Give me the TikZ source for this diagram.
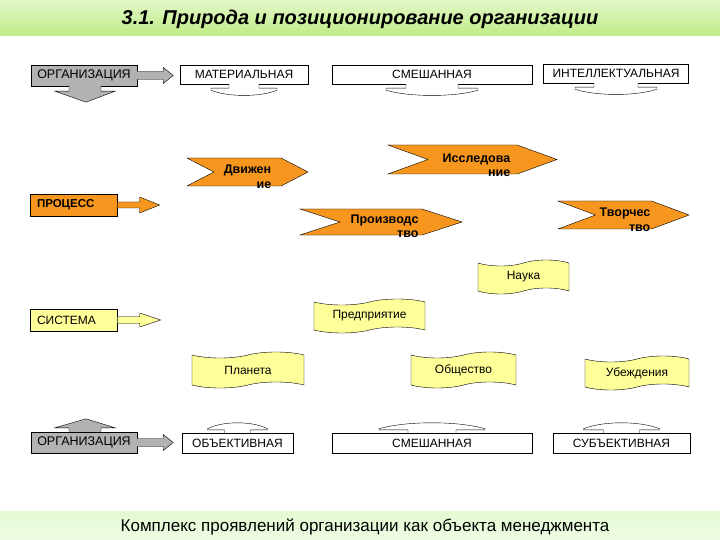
\documentclass[tikz,border=0pt]{standalone}
\usepackage{fontspec}
\setmainfont{Liberation Sans}
\usetikzlibrary{shapes.symbols}

\definecolor{bandtop}{RGB}{226,248,198}
\definecolor{bandbottom}{RGB}{190,236,134}
\definecolor{footband}{RGB}{228,250,210}
\definecolor{chevorange}{RGB}{247,150,30}
\definecolor{wavyellow}{RGB}{255,255,153}
\definecolor{orggray}{RGB}{178,178,178}

\begin{document}
\begin{tikzpicture}[x=1pt,y=-1pt,
    kind/.style={draw,thin,fill=white,inner sep=0,minimum height=19pt,font=\fontsize{12}{14}\selectfont},
    orgbox/.style={draw,thin,fill=orggray,inner sep=0,minimum width=106pt,minimum height=21pt,font=\fontsize{12.5}{14}\selectfont},
    tag/.style={draw,thin,inner sep=0,minimum width=87pt,minimum height=22pt,text width=74pt,align=left},
    chev/.style={signal,signal to=east,signal from=west,draw,thin,fill=chevorange,inner sep=0},
    chevtext/.style={align=right,inner sep=0,font=\bfseries\fontsize{12.5}{14.5}\selectfont},
    wave/.style={tape,draw,thin,fill=wavyellow,inner sep=0,tape bend height=6pt,font=\fontsize{12}{14}\selectfont},
    blockarrow/.style={draw,thin,line join=miter},
    tabarrow/.style={draw,thin,fill=white}
]
\useasboundingbox[fill=white] (0,0) rectangle (720,540);

\shade[top color=bandtop,bottom color=bandbottom] (0,0) rectangle (720,36);
\shade[top color=footband,bottom color=footband!60!white] (0,511) rectangle (720,540);
\node[font=\bfseries\itshape\fontsize{20}{24}\selectfont] (title) at (360,19)
    {3.1. Природа и позиционирование организации};
\node[font=\fontsize{17}{20}\selectfont] (foot) at (365,527)
    {Комплекс проявлений организации как объекта менеджмента};

\node[orgbox] (org1) at (84,75.5) {ОРГАНИЗАЦИЯ};
\node[kind,minimum width=128pt] (mat) at (244,74.5) {МАТЕРИАЛЬНАЯ};
\node[kind,minimum width=200pt] (mix1) at (432,74.5) {СМЕШАННАЯ};
\node[kind,minimum width=145pt] (int) at (616,73.5) {ИНТЕЛЛЕКТУАЛЬНАЯ};

\node[orgbox] (org2) at (84,442.5) {ОРГАНИЗАЦИЯ};
\node[kind,minimum width=111pt,minimum height=20pt] (obj) at (237.5,443) {ОБЪЕКТИВНАЯ};
\node[kind,minimum width=200pt,minimum height=20pt] (mix2) at (432,443) {СМЕШАННАЯ};
\node[kind,minimum width=137pt,minimum height=20pt] (sub) at (621.5,443) {СУБЪЕКТИВНАЯ};

\foreach \o in {org1,org2}{
  \draw[blockarrow,fill=orggray] (\o.east) ++(0,-4) -- ++(26,0) -- ++(0,-4)
      -- ++(10,8) -- ++(-10,8) -- ++(0,-4) -- ++(-26,0);
}
\draw[blockarrow,fill=orggray,shift={(org1.south)}] (-15,0) -- (-15,5) -- (-29,5)
    -- (2,16) -- (31,5) -- (17,5) -- (17,0);
\draw[blockarrow,fill=orggray,shift={(org2.north)}] (-15,0) -- (-15,-4) -- (-29,-4)
    -- (2,-13) -- (31,-4) -- (17,-4) -- (17,0);

\foreach \b/\w/\s in {mat/33/15,mix1/46/26,int/41/22}{
  \draw[tabarrow,shift={(\b.south)}] (-\s,0) -- (-\s,4) -- (-\w,4) -- (-\w,6)
      .. controls (-\w/2,13) and (\w/2,13) .. (\w,6) -- (\w,4) -- (\s,4) -- (\s,0);
}
\foreach \b/\w/\s in {obj/30/13,mix2/53/24,sub/38/18}{
  \draw[tabarrow,shift={(\b.north)}] (-\s,0) -- (-\s,-3) -- (-\w,-3) -- (-\w,-4)
      .. controls (-\w/2,-12) and (\w/2,-12) .. (\w,-4) -- (\w,-3) -- (\s,-3) -- (\s,0);
}

\node[tag,fill=chevorange,font=\bfseries\fontsize{11.5}{13}\selectfont] (proc) at (74,205) {ПРОЦЕСС};
\draw[blockarrow,fill=chevorange] (proc.east) ++(0,-3) -- ++(22,0) -- ++(0,-5)
    -- ++(20,8) -- ++(-20,8) -- ++(0,-5) -- ++(-22,0);

\node[chev,minimum width=121pt,minimum height=28pt,signal pointer angle=55] (mv) at (247.5,172) {};
\node[chev,minimum width=169pt,minimum height=29pt,signal pointer angle=40] (res) at (472.5,159.5) {};
\node[chev,minimum width=162pt,minimum height=26pt,signal pointer angle=36] (prod) at (381,222) {};
\node[chev,minimum width=131pt,minimum height=28pt,signal pointer angle=41] (cre) at (623.5,215) {};
\node[chevtext] (mvt) at ([shift={(0,5)}]mv.center) {Движен\\ие};
\node[chevtext] (rest) at ([shift={(4,6)}]res.center) {Исследова\\ние};
\node[chevtext] (prodt) at ([shift={(3.5,4.5)}]prod.center) {Производс\\тво};
\node[chevtext] (cret) at ([shift={(1.5,5)}]cre.center) {Творчес\\тво};

\node[tag,fill=wavyellow,font=\fontsize{12}{14}\selectfont] (sys) at (74,320) {СИСТЕМА};
\draw[blockarrow,fill=wavyellow] (sys.east) ++(0,-3.5) -- ++(22,0) -- ++(0,-3.5)
    -- ++(21,7) -- ++(-21,7) -- ++(0,-3.5) -- ++(-22,0);

\node[wave,minimum width=91pt,minimum height=34pt] (sci) at (523.5,277) {Наука};
\node[wave,minimum width=111pt,minimum height=34pt] (ent) at (369.5,316) {Предприятие};
\node[wave,minimum width=112pt,minimum height=36pt] (pla) at (248,370) {Планета};
\node[wave,minimum width=105pt,minimum height=36pt] (soc) at (463.5,370) {Общество};
\node[wave,minimum width=104pt,minimum height=34pt] (bel) at (637,373) {Убеждения};

\end{tikzpicture}
\end{document}
